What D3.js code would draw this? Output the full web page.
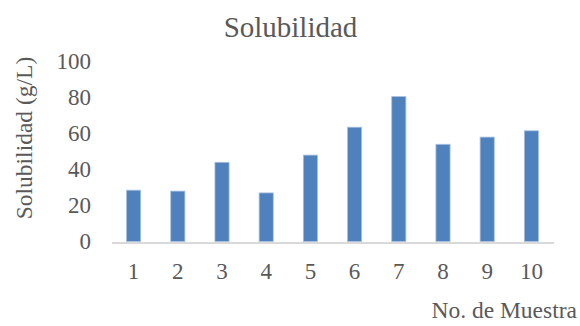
<!DOCTYPE html>
<html>
<head>
<meta charset="utf-8">
<script src="https://cdn.jsdelivr.net/npm/d3@7/dist/d3.min.js"></script>
<style>
  html, body { margin: 0; padding: 0; background: #fff; }
  svg { display: block; }
</style>
</head>
<body>
<svg id="chart" width="580" height="326"></svg>
<script>
// Solubility per sample
const categories = ["1", "2", "3", "4", "5", "6", "7", "8", "9", "10"];
const solubility = [28.5, 28, 44, 27, 48, 63.5, 80.5, 54, 58, 61.5];
const yTicks = [0, 20, 40, 60, 80, 100];

const title = "Solubilidad";
const yTitle = "Solubilidad (g/L)";
const xTitle = "No. de Muestra";

const FONT = "'Liberation Serif', 'Times New Roman', serif";
const INK = "#595959";

const svg = d3.select("#chart");

const plot = { left: 111.5, right: 553.5, top: 61.5, bottom: 241.5 };

const x = d3.scaleBand()
  .domain(categories)
  .range([plot.left, plot.right])
  .paddingInner(0.68)
  .paddingOuter(0.34);

const y = d3.scaleLinear()
  .domain([0, 100])
  .range([plot.bottom, plot.top]);

// Bars
svg.append("g")
  .selectAll("rect")
  .data(categories)
  .join("rect")
  .attr("x", d => x(d))
  .attr("width", x.bandwidth())
  .attr("y", (d, i) => y(solubility[i]))
  .attr("height", (d, i) => y(0) - y(solubility[i]))
  .attr("fill", "#4f81bd")
  .attr("stroke", "#a9c1e0")
  .attr("stroke-width", 0.8);

// Category axis line and labels
const xAxis = d3.axisBottom(x).tickSize(0).tickPadding(0);
const gx = svg.append("g")
  .attr("transform", `translate(0,${y(0) + 1})`)
  .call(xAxis);
gx.select(".domain").attr("stroke", "#d9d9d9").attr("stroke-width", 2);
gx.selectAll(".tick text")
  .attr("y", 36)
  .attr("dy", 0)
  .style("font-size", "23px")
  .style("font-family", FONT)
  .style("fill", INK);

// Value axis labels (no line, no ticks)
const yAxis = d3.axisLeft(y).tickValues(yTicks).tickSize(0).tickPadding(0);
const gy = svg.append("g")
  .attr("transform", "translate(91,0)")
  .call(yAxis);
gy.select(".domain").remove();
gy.selectAll(".tick text")
  .attr("x", 0)
  .attr("dy", "0.3em")
  .style("font-size", "23px")
  .style("font-family", FONT)
  .style("fill", INK);

// Chart title
svg.append("text")
  .attr("x", 290.5)
  .attr("y", 37)
  .attr("text-anchor", "middle")
  .style("font-size", "29px")
  .style("font-family", FONT)
  .style("fill", INK)
  .text(title);

// Value axis title
svg.append("text")
  .attr("transform", "translate(32,138) rotate(-90)")
  .attr("text-anchor", "middle")
  .style("font-size", "23.5px")
  .style("font-family", FONT)
  .style("fill", INK)
  .text(yTitle);

// Category axis title
svg.append("text")
  .attr("x", 577)
  .attr("y", 318)
  .attr("text-anchor", "end")
  .style("font-size", "23.5px")
  .style("font-family", FONT)
  .style("fill", INK)
  .text(xTitle);
</script>
</body>
</html>
